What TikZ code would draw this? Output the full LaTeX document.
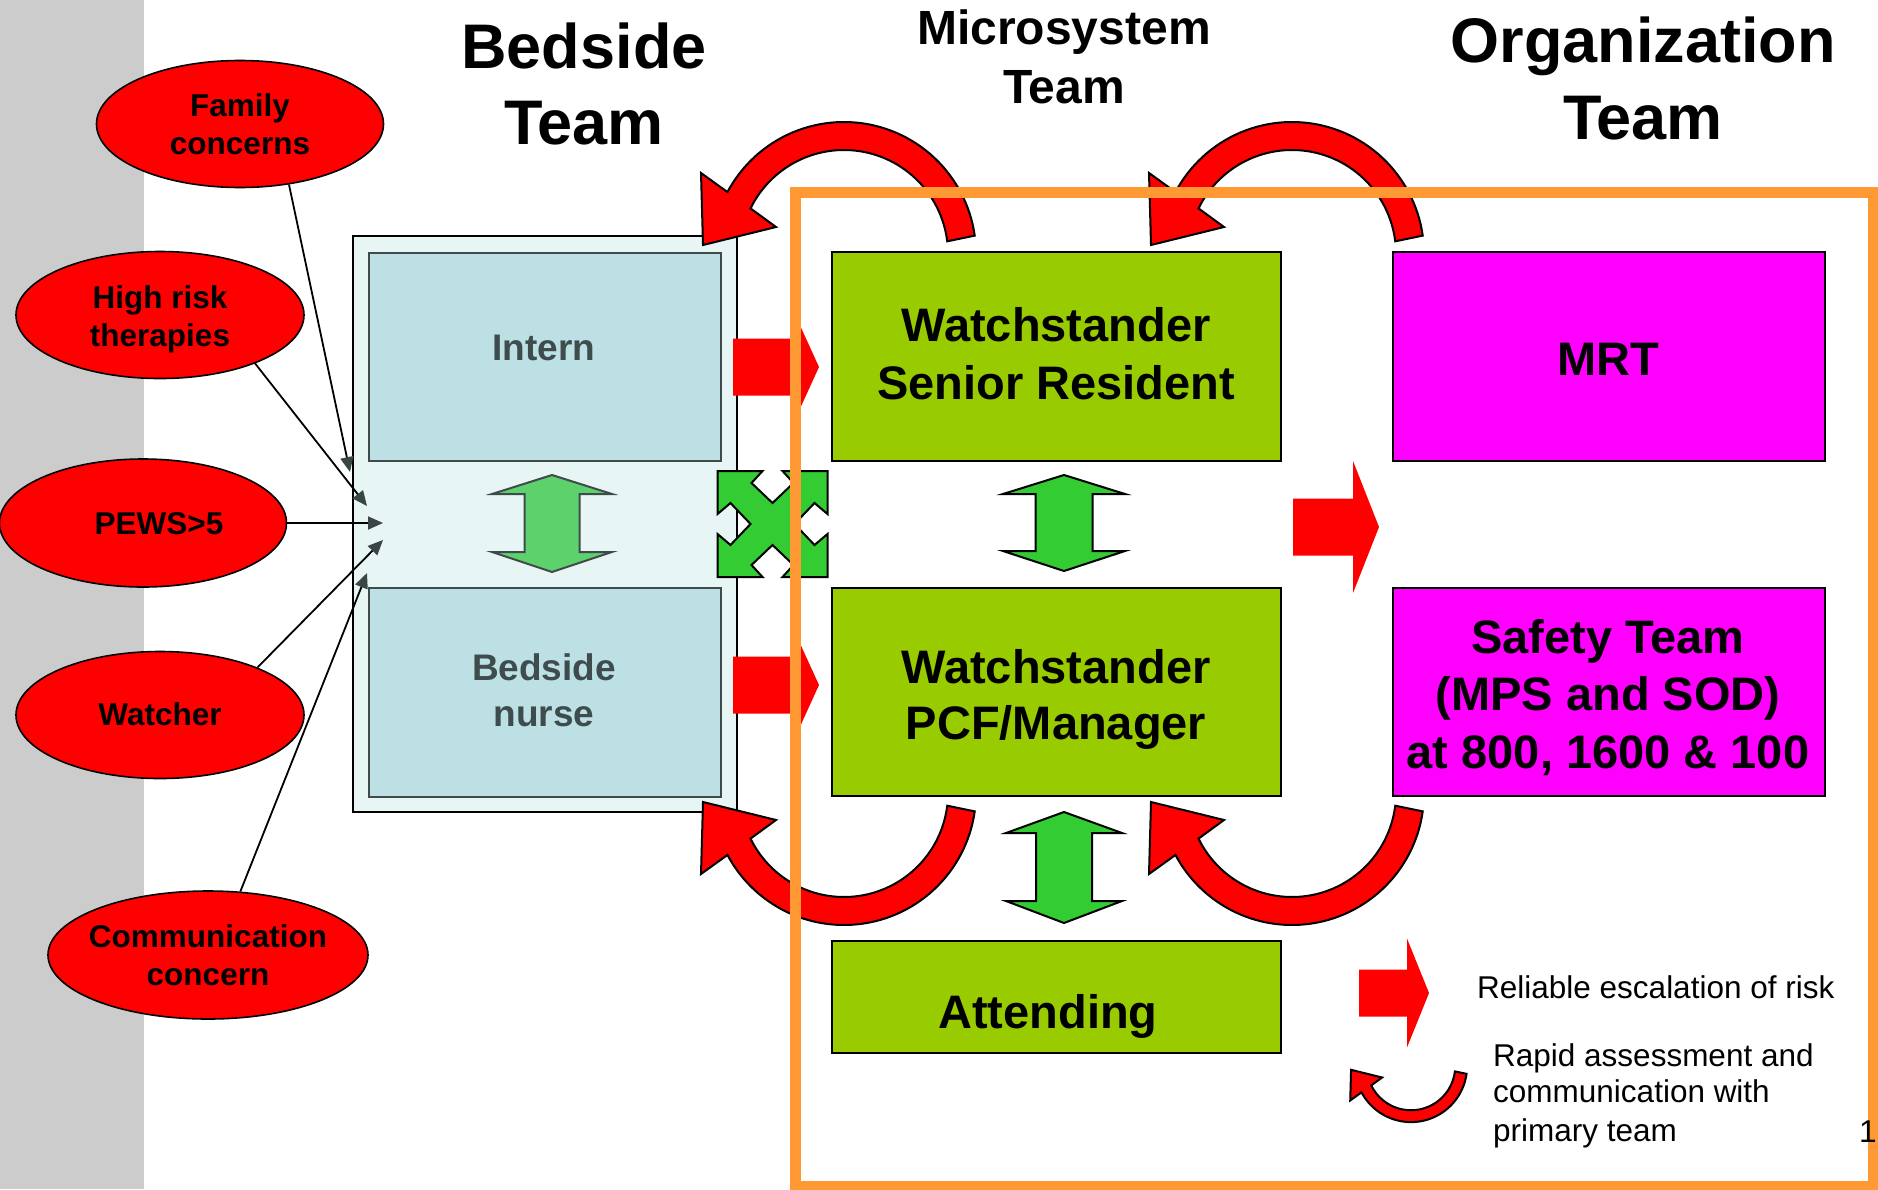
\documentclass[tikz,border=0pt]{standalone}
\usepackage{fontspec}
\setmainfont{Liberation Sans}
\usetikzlibrary{arrows.meta,shapes.geometric}

\definecolor{stripgray}{HTML}{CCCCCC}
\definecolor{bedfill}{HTML}{E8F5F5}
\definecolor{roleblue}{HTML}{BCE0E3}
\definecolor{roleedge}{HTML}{3F4B4B}
\definecolor{roletext}{HTML}{3F4C4E}
\definecolor{leafgreen}{HTML}{99CC00}
\definecolor{orgpink}{HTML}{FF00FF}
\definecolor{linkgreen}{HTML}{33CC33}
\definecolor{palegreen}{HTML}{5DD16C}
\definecolor{alertred}{HTML}{FF0000}
\definecolor{frameorange}{HTML}{FF9933}
\definecolor{tipgray}{HTML}{3A4545}

% type sizes (1 unit = 1pt)
\newcommand\fsTitle{\fontsize{63}{76}\selectfont\bfseries}
\newcommand\fsMicro{\fontsize{48}{59}\selectfont\bfseries}
\newcommand\fsBox{\fontsize{47}{58}\selectfont\bfseries}
\newcommand\fsEll{\fontsize{31.5}{38}\selectfont\bfseries}
\newcommand\fsBed{\fontsize{37}{46}\selectfont\bfseries}
\newcommand\fsLeg{\fontsize{31.5}{37.5}\selectfont}

% straight block arrow: x start, head base x, tip x, centre y, half shaft, half head
\newcommand\blockarrowpath[6]{(#1,#4-#5) -- (#2,#4-#5) -- (#2,#4-#6) -- (#3,#4) -- (#2,#4+#6) -- (#2,#4+#5) -- (#1,#4+#5) -- cycle}
% vertical two-headed arrow: centre x, top tip, upper base, lower base, bottom tip, half head, half shaft
\newcommand\dblarrowpath[7]{(#1,#2) -- (#1+#6,#3) -- (#1+#7,#3) -- (#1+#7,#4) -- (#1+#6,#4) -- (#1,#5) -- (#1-#6,#4) -- (#1-#7,#4) -- (#1-#7,#3) -- (#1-#6,#3) -- cycle}

\tikzset{
  ell/.style={ellipse, draw=black, fill=alertred, line width=1.6pt, inner sep=0pt},
  elltext/.style={align=center, inner sep=0pt, font=\fsEll},
  box/.style={rectangle, draw=black, line width=2pt, inner sep=0pt, anchor=north west},
  rolebox/.style={rectangle, draw=roleedge, fill=roleblue, line width=2pt, inner sep=0pt, anchor=north west},
  boxtext/.style={inner sep=0pt, anchor=base, font=\fsBox},
  roletxt/.style={inner sep=0pt, anchor=base, font=\fsBed, text=roletext},
  titletext/.style={inner sep=0pt, anchor=base, font=\fsTitle},
  microtext/.style={inner sep=0pt, anchor=base, font=\fsMicro},
  legtext/.style={inner sep=0pt, anchor=base west, font=\fsLeg},
  inarrow/.style={draw=black, line width=1.8pt, -{Triangle[length=15pt, width=13pt, color=tipgray]}},
  bendstyle/.style={fill=alertred, draw=black, line width=2pt, line join=miter},
  greenarrow/.style={fill=linkgreen, draw=black, line width=2pt},
  bendarrow/.pic={
    \filldraw[bendstyle]
      plot[domain=8:152, samples=60] ({132*cos(\x)}, {-132*sin(\x)})
      -- (-143,-81) -- (-141,-9) -- (-68,-27)
      -- plot[domain=-154:-7, samples=60] ({104*cos(\x)}, {104*sin(\x)})
      -- cycle;
  }
}

\begin{document}
\begin{tikzpicture}[x=1pt, y=-1pt]
\useasboundingbox (0,0) rectangle (1878,1189);
\clip (0,0) rectangle (1878,1189);
\fill[white] (0,0) rectangle (1878,1189);
\fill[stripgray] (0,0) rectangle (144,1189);

% column titles
\node[titletext] (bedT1) at (584,68) {Bedside};
\node[titletext] (bedT2) at (584,144) {Team};
\node[microtext] (micT1) at (1064,44) {Microsystem};
\node[microtext] (micT2) at (1064,103) {Team};
\node[titletext] (orgT1) at (1643,62) {Organization};
\node[titletext] (orgT2) at (1643,139) {Team};

% bedside team
\node[box, fill=bedfill, minimum width=384pt, minimum height=576pt] (bedside) at (352,235) {};
\node[rolebox, minimum width=352pt, minimum height=208pt] (intern) at (368,252) {};
\node[rolebox, minimum width=352pt, minimum height=209pt] (nurse) at (368,587) {};
\node[roletxt] (internT) at (544,360) {Intern};
\node[roletxt] (nurseT1) at (544,680) {Bedside};
\node[roletxt] (nurseT2) at (544,726) {nurse};
\filldraw[fill=palegreen, draw=roleedge, line width=2pt] \dblarrowpath{552}{475}{494}{552}{572}{60}{27.5};

% risk triggers
\node[ell, minimum width=287pt, minimum height=127pt] (family) at (240,124) {};
\node[ell, minimum width=288pt, minimum height=127pt] (highrisk) at (160,315) {};
\node[ell, minimum width=287pt, minimum height=128pt] (pews) at (143,523) {};
\node[ell, minimum width=288pt, minimum height=127pt] (watcher) at (160,715) {};
\node[ell, minimum width=320pt, minimum height=128pt] (comm) at (208,955) {};
\node[elltext] (familyT) at (family.center) {Family\\concerns};
\node[elltext] (highriskT) at ([yshift=-4pt]highrisk.center) {High risk\\therapies};
\node[elltext, anchor=base] (pewsT) at (159,534) {PEWS>5};
\node[elltext] (watcherT) at ([yshift=1pt]watcher.center) {Watcher};
\node[elltext] (commT) at (comm.center) {Communication\\concern};

\coordinate (tipF) at (350,472);
\coordinate (tipH) at (367,506);
\coordinate (tipP) at (383,523);
\coordinate (tipW) at (383,540);
\coordinate (tipC) at (367,573);
\draw[inarrow] (family.-51) -- (tipF);
\draw[inarrow] (highrisk.-27) -- (tipH);
\draw[inarrow] (pews.east) -- (tipP);
\draw[inarrow] (watcher.26) -- (tipW);
\draw[inarrow] (comm.63) -- (tipC);

% microsystem team
\node[box, fill=leafgreen, minimum width=449pt, minimum height=209pt] (senior) at (831,251) {};
\node[box, fill=leafgreen, minimum width=449pt, minimum height=208pt] (pcf) at (831,587) {};
\node[box, fill=leafgreen, minimum width=449pt, minimum height=112pt] (attending) at (831,940) {};
\node[boxtext] (seniorT1) at (1056,341) {Watchstander};
\node[boxtext] (seniorT2) at (1056,399) {Senior Resident};
\node[boxtext] (pcfT1) at (1056,683) {Watchstander};
\node[boxtext] (pcfT2) at (1056,739) {PCF/Manager};
\node[boxtext] (attendingT) at (1048,1028) {Attending};
\filldraw[greenarrow] \dblarrowpath{1064}{475}{494}{551}{571}{61}{28.5};
\filldraw[greenarrow] \dblarrowpath{1064}{812}{833}{901}{923}{58}{28};

% organization team
\node[box, fill=orgpink, minimum width=432pt, minimum height=209pt] (mrt) at (1392,251) {};
\node[box, fill=orgpink, minimum width=432pt, minimum height=208pt] (safety) at (1392,587) {};
\node[boxtext] (mrtT) at (1608,375) {MRT};
\node[boxtext] (safetyT1) at (1608,653) {Safety Team};
\node[boxtext] (safetyT2) at (1608,710) {(MPS and SOD)};
\node[boxtext] (safetyT3) at (1608,768) {at 800, 1600 \& 100};

% escalation arrows
\fill[alertred] \blockarrowpath{733}{798}{819}{367}{28.5}{46};
\fill[alertred] \blockarrowpath{733}{798}{819}{685}{28.5}{46};
\fill[alertred] \blockarrowpath{1293}{1353}{1379}{527}{28.5}{66};

% four-way link between bedside and microsystem
\filldraw[greenarrow, shift={(772.5,524)}]
  (-55,-53) -- (-10,-53) -- (-21,-41) -- (0,-21) -- (21,-41) -- (10,-53) -- (55,-53)
  -- (55,-10) -- (42,-21) -- (22,0) -- (42,21) -- (55,10) -- (55,53)
  -- (10,53) -- (21,41) -- (0,21) -- (-21,41) -- (-10,53) -- (-55,53)
  -- (-55,10) -- (-42,21) -- (-22,0) -- (-42,-21) -- (-55,-10) -- cycle;

% rapid assessment loops
\pic at (844,254) {bendarrow};
\pic at (1292,254) {bendarrow};
\pic[yscale=-1] at (844,793) {bendarrow};
\pic[yscale=-1] at (1292,793) {bendarrow};

% legend
\fill[alertred] \blockarrowpath{1359}{1407}{1429}{993}{23.5}{54.5};
\pic[scale=0.425, yscale=-1] at (1411,1066) {bendarrow};
\node[legtext] (legA) at (1477,998) {Reliable escalation of risk};
\node[legtext] (legB1) at (1493,1066) {Rapid assessment and};
\node[legtext] (legB2) at (1493,1102) {communication with};
\node[legtext] (legB3) at (1493,1141) {primary team};

% microsystem / organization frame
\draw[frameorange, line width=11pt] (795,192) rectangle (1873,1186);
\node[legtext] (pageno) at (1859,1142) {1};
\end{tikzpicture}
\end{document}
